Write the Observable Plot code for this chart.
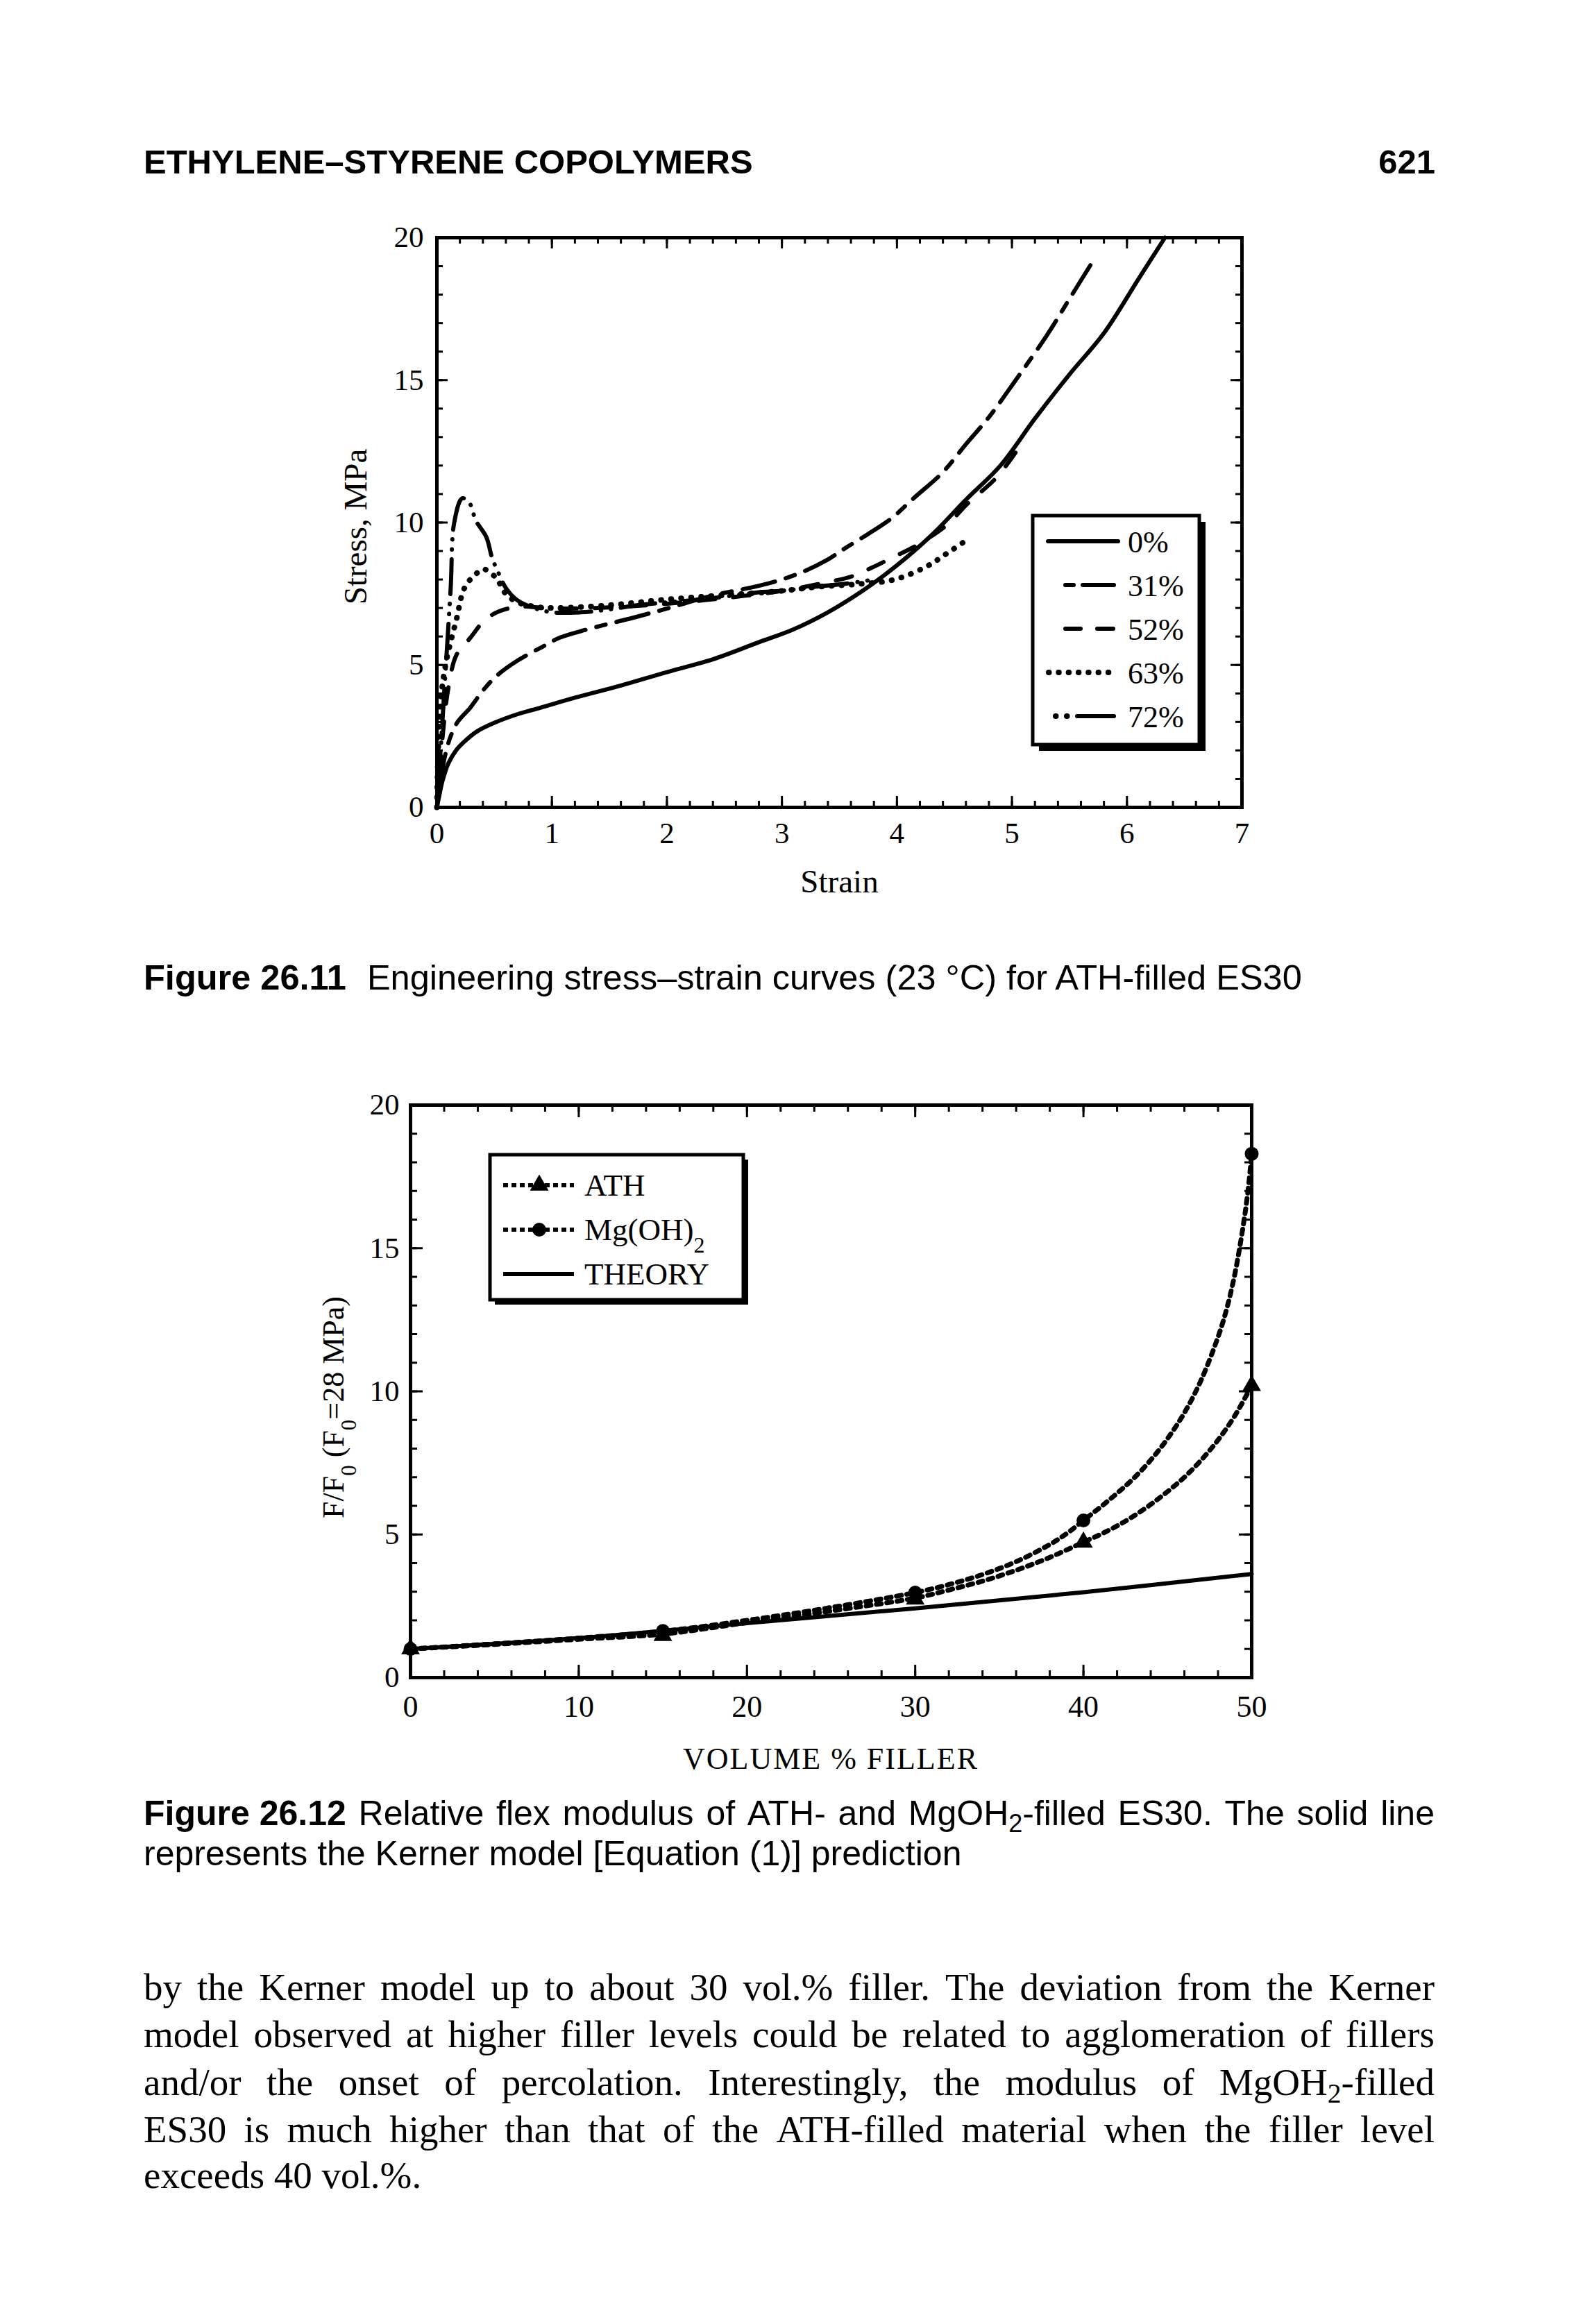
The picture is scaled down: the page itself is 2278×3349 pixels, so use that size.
<!DOCTYPE html>
<html><head><meta charset="utf-8">
<script src="https://cdn.jsdelivr.net/npm/d3@7"></script>
<script src="https://cdn.jsdelivr.net/npm/@observablehq/plot@0.6"></script>
<style>
html,body{margin:0;padding:0;background:#fff;}
#page{position:relative;width:2278px;height:3349px;overflow:hidden;background:#fff;}
#page svg{position:absolute;max-width:none;}
</style></head><body><div id="page"></div>
<script>
// ---------- Figure 26.11 data (strain, stress MPa) ----------
const strainTicks = [0,1,2,3,4,5,6,7];
const stressTicks = [0,5,10,15,20];
const strain0  = [0,0.02,0.05,0.1,0.17,0.25,0.35,0.5,0.7,0.9,1.2,1.6,2.0,2.4,2.8,3.1,3.4,3.7,4.0,4.3,4.6,4.9,5.2,5.5,5.8,6.1,6.33];
const stress0  = [0,0.4,0.95,1.55,2.02,2.35,2.67,2.97,3.27,3.5,3.85,4.28,4.75,5.2,5.8,6.25,6.85,7.6,8.5,9.55,10.8,12.0,13.65,15.2,16.65,18.55,20.0];
const strain31 = [0,0.03,0.07,0.12,0.18,0.29,0.4,0.52,0.7,0.9,1.07,1.3,1.5,1.7,2.0,2.4,2.8,3.0,3.2,3.39,3.55,3.75,3.95,4.15,4.4,4.6,4.8,5.05,5.3,5.5,5.7];
const stress31 = [0,0.9,1.8,2.5,3.0,3.5,4.1,4.62,5.15,5.6,5.96,6.24,6.45,6.65,6.98,7.44,7.78,8.0,8.3,8.68,9.1,9.6,10.14,10.87,11.77,12.75,13.7,15.1,16.55,17.85,19.15];
const strain52 = [0,0.02,0.05,0.1,0.17,0.29,0.41,0.54,0.73,1.0,1.5,2.0,2.5,3.0,3.39,3.6,3.8,4.0,4.15,4.43,4.61,4.87,5.09];
const stress52 = [0,1.0,2.5,4.2,5.35,5.95,6.55,6.88,7.05,6.98,7.02,7.15,7.35,7.6,7.9,8.1,8.45,8.85,9.15,9.9,10.65,11.6,12.8];
const strain63 = [0,0.03,0.08,0.17,0.24,0.34,0.41,0.52,0.59,0.69,0.85,1.0,1.5,2.0,2.5,3.0,3.33,3.63,3.97,4.25,4.45,4.63];
const stress63 = [0,3.6,5.1,6.6,7.7,8.2,8.36,8.03,7.54,7.22,7.05,7.0,7.1,7.3,7.45,7.6,7.75,7.83,7.99,8.44,8.96,9.45];
const strain72 = [0,0.04,0.07,0.12,0.15,0.22,0.28,0.34,0.43,0.48,0.54,0.6,0.69,0.83,1.0,1.25,1.5,1.75,2.0,2.3,2.6,2.8,3.0,3.3,3.55,3.8];
const stress72 = [0,2.5,4.46,7.7,9.98,10.85,10.71,10.06,9.49,8.76,8.19,7.7,7.3,7.02,6.85,6.85,6.95,7.1,7.2,7.3,7.45,7.55,7.6,7.75,7.85,8.0];
const fillerLabels = ["0%","31%","52%","63%","72%"];

// ---------- Figure 26.12 data (volume % filler, F/F0) ----------
const volTicks = [0,10,20,30,40,50];
const ratioTicks = [0,5,10,15,20];
const markerVol = [0,15,30,40,50];
const athMarker = [1.0,1.47,2.74,4.73,10.2];
const mgMarker  = [1.0,1.63,2.97,5.49,18.3];
const athCurveX = [0,5,10,15,20,25,30,32,34,36,38,40,41,42,43,44,45,46,47,48,49,50];
const athCurveY = [1.0,1.16,1.34,1.52,1.92,2.33,2.78,3.06,3.37,3.75,4.2,4.73,5.0,5.3,5.65,6.05,6.5,7.0,7.6,8.3,9.15,10.2];
const mgCurveX = [0,5,10,15,20,25,30,32,34,36,38,39,40,41,42,43,44,45,46,47,48,48.5,49,49.5,49.8,50];
const mgCurveY = [1.0,1.18,1.38,1.62,2.0,2.45,2.97,3.25,3.6,4.05,4.65,5.03,5.49,5.95,6.44,6.97,7.6,8.35,9.25,10.4,11.9,12.85,14.1,15.8,17.1,18.3];
const theoryX = [0,10,20,30,40,50];
const theoryY = [1.0,1.38,1.9,2.42,2.98,3.62];

// ---------- styles ----------
const serif = "'Liberation Serif','Times New Roman',serif";
const sans = "'Liberation Sans',Arial,sans-serif";
const dash31 = "14,16,48,16", dash52 = "24,26", dash63 = "0.5,14", dash72 = "0.5,14,0.5,14,50,14";
const dotDash = "7,8";

function pts(xs, ys){ return xs.map((x,i)=>({x, y: ys[i]})); }
function frameTicks(xMajor, xMinor, yMajor, yMinor, FW, FH, maj, min){
  const o = {stroke:"black", strokeWidth: 3};
  return [
    Plot.tickX(xMinor, {x: d=>d, insetTop: FH-min, ...o}),
    Plot.tickX(xMinor, {x: d=>d, insetBottom: FH-min, ...o}),
    Plot.tickX(xMajor, {x: d=>d, insetTop: FH-maj, ...o}),
    Plot.tickX(xMajor, {x: d=>d, insetBottom: FH-maj, ...o}),
    Plot.tickY(yMinor, {y: d=>d, insetRight: FW-min, ...o}),
    Plot.tickY(yMinor, {y: d=>d, insetLeft: FW-min, ...o}),
    Plot.tickY(yMajor, {y: d=>d, insetRight: FW-maj, ...o}),
    Plot.tickY(yMajor, {y: d=>d, insetLeft: FW-maj, ...o})
  ];
}

const page = document.getElementById("page");

// ---------- page text ----------
const tsvg = d3.select(page).append("svg").attr("width",2278).attr("height",3349).style("left","0px").style("top","0px");

function parseWord(w){
  const segs=[]; const re=/_(\d)/g; let last=0, m;
  while((m=re.exec(w))){ if(m.index>last) segs.push({t:w.slice(last,m.index)}); segs.push({t:m[1],sub:true}); last=re.lastIndex; }
  if(last<w.length) segs.push({t:w.slice(last)});
  return segs;
}
function textLine(svg, {x, y, width, words, family, size, justify, spaceEm}){
  const t = svg.append("text").attr("y", y).attr("text-anchor","start").attr("font-family", family).attr("font-size", size).attr("fill","black");
  const nodes = words.map(w => {
    const ts = t.append("tspan");
    if (w.bold) ts.attr("font-weight","bold");
    parseWord(w.text).forEach(s => {
      const c = ts.append("tspan").text(s.t);
      if (s.sub) c.attr("font-size", size*0.72).attr("baseline-shift", -Math.round(size*0.2));
    });
    return ts;
  });
  const lens = nodes.map(n => n.node().getComputedTextLength());
  const total = d3.sum(lens);
  const gap = justify ? (width - total)/(words.length-1) : spaceEm*size;
  let cx = x;
  nodes.forEach((n,i)=>{ n.attr("x", cx); cx += lens[i] + gap; });
}
function wordsOf(str, bold){ return str.split(" ").map(s=>({text:s, bold})); }

tsvg.append("text").attr("x",207).attr("y",250).attr("font-family",sans).attr("font-weight","bold").attr("font-size",49).text("ETHYLENE–STYRENE COPOLYMERS");
tsvg.append("text").attr("x",2068).attr("y",250).attr("text-anchor","end").attr("font-family",sans).attr("font-weight","bold").attr("font-size",49).text("621");

const cap1 = tsvg.append("text").attr("x",207).attr("y",1426).attr("font-family",sans).attr("font-size",50.5);
cap1.append("tspan").attr("font-weight","bold").text("Figure 26.11");
cap1.append("tspan").attr("dx",30).text("Engineering stress–strain curves (23 °C) for ATH-filled ES30");

textLine(tsvg, {x:207, y:2630, width:1860, family:sans, size:50, justify:true,
  words:[{text:"Figure 26.12", bold:true}].concat(wordsOf("Relative flex modulus of ATH- and MgOH_2-filled ES30. The solid line"))});
textLine(tsvg, {x:207, y:2688, width:1860, family:sans, size:50, justify:false, spaceEm:0.278,
  words: wordsOf("represents the Kerner model [Equation (1)] prediction")});

const para = [
  ["by the Kerner model up to about 30 vol.% filler. The deviation from the Kerner", true],
  ["model observed at higher filler levels could be related to agglomeration of fillers", true],
  ["and/or the onset of percolation. Interestingly, the modulus of MgOH_2-filled", true],
  ["ES30 is much higher than that of the ATH-filled material when the filler level", true],
  ["exceeds 40 vol.%.", false]
];
const paraY = [2882, 2950, 3019, 3087, 3153];
para.forEach(([s, j], i) => textLine(tsvg, {x:207, y:paraY[i], width:1860, family:serif, size:55, justify:j, spaceEm:0.25, words: wordsOf(s)}));

// ---------- Figure 26.11 ----------
const FW1 = 1789-629, FH1 = 1163-342;
const plot1 = Plot.plot({
  width: 2278, height: 1000,
  marginLeft: 629, marginRight: 489, marginTop: 42, marginBottom: 137,
  x: {domain:[0,7], label:null}, y: {domain:[0,20], label:null},
  style: {fontFamily: serif, fontSize: "43px", color: "black", background: "transparent"},
  marks: [
    ...frameTicks(strainTicks, d3.range(0,36).map(i=>i*0.2), stressTicks, d3.range(0,21), FW1, FH1, 16, 9),
    Plot.axisX({ticks: strainTicks, tickSize: 0, tickPadding: 21, fontSize: 43, tickFormat: d => String(d), label: null}),
    Plot.axisY({ticks: stressTicks, tickSize: 0, tickPadding: 19, fontSize: 43, tickFormat: d => String(d), label: null}),
    Plot.line(pts(strain72, stress72), {x:"x", y:"y", curve:"catmull-rom", strokeWidth:6, strokeDasharray:dash72, strokeLinecap:"round"}),
    Plot.line(pts(strain63, stress63), {x:"x", y:"y", curve:"catmull-rom", strokeWidth:8, strokeDasharray:dash63, strokeLinecap:"round"}),
    Plot.line(pts(strain52, stress52), {x:"x", y:"y", curve:"catmull-rom", strokeWidth:6, strokeDasharray:dash52, strokeLinecap:"round"}),
    Plot.line(pts(strain31, stress31), {x:"x", y:"y", curve:"catmull-rom", strokeWidth:6, strokeDasharray:dash31, strokeLinecap:"round"}),
    Plot.line(pts(strain0, stress0), {x:"x", y:"y", curve:"catmull-rom", strokeWidth:6}),
    Plot.frame({strokeWidth: 5}),
    Plot.text(["Strain"], {frameAnchor:"bottom", dy:107, lineAnchor:"middle", textAnchor:"middle", fontSize:47}),
    Plot.text(["Stress, MPa"], {frameAnchor:"left", dx:-117, dy:6, rotate:-90, textAnchor:"middle", lineAnchor:"middle", fontSize:47})
  ]
});
plot1.style.left = "0px"; plot1.style.top = "300px";
page.appendChild(plot1);

// legend 1 (svg coords = page - 300)
{
  const g = d3.select(plot1).append("g");
  const bx = 1488, by = 443, bw = 240, bh = 330;
  g.append("rect").attr("x",bx+9).attr("y",by+9).attr("width",bw).attr("height",bh).attr("fill","black");
  g.append("rect").attr("x",bx).attr("y",by).attr("width",bw).attr("height",bh).attr("fill","white").attr("stroke","black").attr("stroke-width",5);
  const ly = i => 480 + 63*i;
  const seg = (x1,x2,y,w,dash) => g.append("line").attr("x1",x1).attr("x2",x2).attr("y1",y).attr("y2",y).attr("stroke","black").attr("stroke-width",w||6).attr("stroke-linecap","round").attr("stroke-dasharray",dash||null);
  seg(1510,1611,ly(0));
  seg(1535,1547,ly(1)); seg(1560,1605,ly(1));
  seg(1535,1557,ly(2)); seg(1581,1604,ly(2));
  seg(1511,1611,ly(3),8,"0.5,13.8");
  seg(1521,1521.5,ly(4),8); seg(1537,1537.5,ly(4),8); seg(1552,1605,ly(4));
  fillerLabels.forEach((t,i)=> g.append("text").attr("x",1625).attr("y",ly(i)+16).attr("text-anchor","start").attr("font-family",serif).attr("font-size",44).attr("fill","black").text(t));
}

// ---------- Figure 26.12 ----------
const FW2 = 1803-591, FH2 = 2417-1592;
const plot2 = Plot.plot({
  width: 2278, height: 1060,
  marginLeft: 591, marginRight: 475, marginTop: 72, marginBottom: 163,
  x: {domain:[0,50], label:null}, y: {domain:[0,20], label:null},
  style: {fontFamily: serif, fontSize: "43px", color: "black", background: "transparent"},
  marks: [
    ...frameTicks(volTicks, d3.range(0,26).map(i=>i*2), ratioTicks, d3.range(0,21), FW2, FH2, 18, 10),
    Plot.axisX({ticks: volTicks, tickSize: 0, tickPadding: 25, fontSize: 44, tickFormat: d => String(d), label: null}),
    Plot.axisY({ticks: ratioTicks, tickSize: 0, tickPadding: 16, fontSize: 43, tickFormat: d => String(d), label: null}),
    Plot.line(pts(theoryX, theoryY), {x:"x", y:"y", curve:"catmull-rom", strokeWidth:6}),
    Plot.line(pts(athCurveX, athCurveY), {x:"x", y:"y", curve:"catmull-rom", strokeWidth:7, strokeDasharray:dotDash}),
    Plot.line(pts(mgCurveX, mgCurveY), {x:"x", y:"y", curve:"catmull-rom", strokeWidth:7, strokeDasharray:dotDash}),
    Plot.dot(pts(markerVol, athMarker), {x:"x", y:"y", symbol:"triangle", r:10, fill:"black", stroke:null}),
    Plot.dot(pts(markerVol, mgMarker), {x:"x", y:"y", symbol:"circle", r:10, fill:"black", stroke:null}),
    Plot.frame({strokeWidth: 5})
  ]
});
plot2.style.left = "0px"; plot2.style.top = "1520px";
page.appendChild(plot2);

{
  const g = d3.select(plot2).append("g");
  // axis titles
  g.append("text").attr("x",1197).attr("y",1029).attr("text-anchor","middle").attr("font-family",serif).attr("font-size",44).attr("letter-spacing",2).attr("fill","black").text("VOLUME % FILLER");
  const yl = g.append("text").attr("transform","translate(495,508) rotate(-90)").attr("text-anchor","middle").attr("font-family",serif).attr("font-size",44).attr("fill","black");
  yl.append("tspan").text("F/F");
  yl.append("tspan").attr("font-size",31).attr("baseline-shift","sub").text("0");
  yl.append("tspan").text(" (F");
  yl.append("tspan").attr("font-size",31).attr("baseline-shift","sub").text("0");
  yl.append("tspan").text("=28 MPa)");
  // legend (svg coords = page - 1520)
  const bx = 706, by = 144, bw = 365, bh = 209;
  g.append("rect").attr("x",bx+7).attr("y",by+7).attr("width",bw).attr("height",bh).attr("fill","black");
  g.append("rect").attr("x",bx).attr("y",by).attr("width",bw).attr("height",bh).attr("fill","white").attr("stroke","black").attr("stroke-width",5);
  const rows = [188, 252, 316];
  const ln = (y, dash) => g.append("line").attr("x1",725).attr("x2",827).attr("y1",y).attr("y2",y).attr("stroke","black").attr("stroke-width",6).attr("stroke-dasharray",dash||null);
  ln(rows[0], "7,5"); ln(rows[1], "7,5"); ln(rows[2]);
  g.append("path").attr("d", d3.symbol(d3.symbolTriangle, Math.PI*100)()).attr("transform",`translate(777,${rows[0]})`).attr("fill","black");
  g.append("circle").attr("cx",777).attr("cy",rows[1]).attr("r",10).attr("fill","black");
  const lt = (y) => g.append("text").attr("x",842).attr("y",y+15).attr("text-anchor","start").attr("font-family",serif).attr("font-size",45).attr("fill","black");
  lt(rows[0]).text("ATH");
  const mg = lt(rows[1]); mg.append("tspan").text("Mg(OH)"); mg.append("tspan").attr("font-size",32).attr("baseline-shift","sub").text("2");
  lt(rows[2]).text("THEORY");
}
</script>
</body></html>
